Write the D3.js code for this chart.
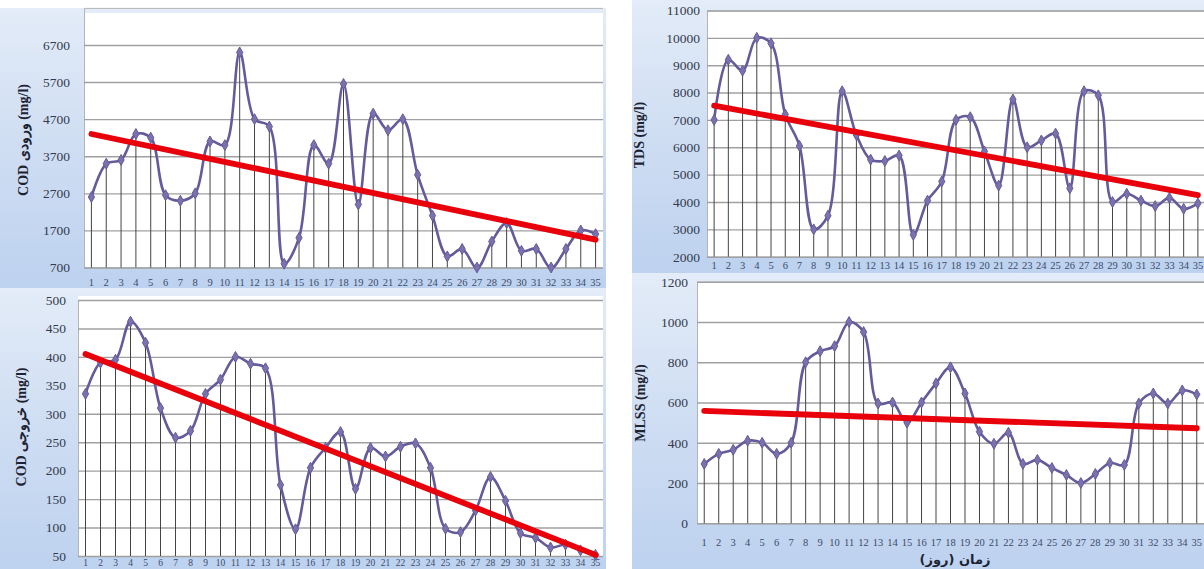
<!DOCTYPE html>
<html>
<head>
<meta charset="utf-8">
<script src="https://cdn.jsdelivr.net/npm/d3@7"></script>
<style>
  body { margin: 0; background: #ffffff; }
  svg { display: block; }
</style>
</head>
<body>
<svg id="chart" width="1204" height="569"></svg>
<script>
// Sampling days (x categories, shared by all four panels)
const days = [1, 2, 3, 4, 5, 6, 7, 8, 9, 10, 11, 12, 13, 14, 15, 16, 17, 18, 19, 20,
              21, 22, 23, 24, 25, 26, 27, 28, 29, 30, 31, 32, 33, 34, 35];

// Influent COD (mg/l)
const codInlet = [2600, 3500, 3600, 4300, 4200, 2650, 2500, 2700, 4100, 4000,
                  6500, 4700, 4500, 800, 1500, 4000, 3500, 5650, 2400, 4850,
                  4400, 4700, 3200, 2100, 1000, 1200, 680, 1400, 1900, 1150,
                  1200, 680, 1200, 1700, 1600];
// Effluent COD (mg/l)
const codOutlet = [335, 390, 395, 462, 425, 310, 258, 270, 335, 360,
                   400, 388, 380, 175, 97, 205, 240, 268, 168, 240,
                   225, 242, 248, 205, 98, 92, 130, 189, 147, 90,
                   82, 65, 70, 60, 52];
// TDS (mg/l)
const tds = [7000, 9200, 8800, 10000, 9800, 7200, 6050, 3000, 3500, 8050,
             6450, 5550, 5500, 5700, 2800, 4050, 4750, 7000, 7100, 5850,
             4600, 7750, 6000, 6250, 6500, 4500, 8050, 7900, 4000, 4300,
             4050, 3850, 4150, 3750, 3950];
// MLSS (mg/l)
const mlss = [295, 345, 365, 410, 400, 345, 400, 800, 855, 880,
              1000, 950, 595, 600, 500, 600, 695, 775, 645, 455,
              395, 450, 295, 315, 275, 240, 200, 245, 300, 290,
              595, 645, 595, 660, 640];

// Linear trend values at the first and last day
const codInletTrend = [4300, 1450];
const codOutletTrend = [405, 52];
const tdsTrend = [7520, 4250];
const mlssTrend = [558, 472];

// Y tick labels
const codInletTicks = [700, 1700, 2700, 3700, 4700, 5700, 6700];
const codOutletTicks = [50, 100, 150, 200, 250, 300, 350, 400, 450, 500];
const tdsTicks = [2000, 3000, 4000, 5000, 6000, 7000, 8000, 9000, 10000, 11000];
const mlssTicks = [0, 200, 400, 600, 800, 1000, 1200];

const svg = d3.select("#chart");

// Chart-area background gradient
const defs = svg.append("defs");
const grad = defs.append("linearGradient")
  .attr("id", "chartBg").attr("x1", 0).attr("y1", 0).attr("x2", 0).attr("y2", 1);
grad.append("stop").attr("offset", "0%").attr("stop-color", "#e3ecf8");
grad.append("stop").attr("offset", "55%").attr("stop-color", "#cddcf2");
grad.append("stop").attr("offset", "100%").attr("stop-color", "#bdd2ef");

const panels = [
  {
    id: "codIn", values: codInlet, trend: codInletTrend, ticks: codInletTicks,
    title: "COD ورودی (mg/l)",
    bg: { x: 0, y: 8, w: 606, h: 280 },
    x0: 84, x1: 603, top: 13, yDomain: [700, 7700], yRange: [267.5, 7.9],
    labelRight: 70, tickLabelY: 282, tickFont: 10.5, titleX: 25, titleY: 140
  },
  {
    id: "codOut", values: codOutlet, trend: codOutletTrend, ticks: codOutletTicks,
    title: "COD خروجی (mg/l)",
    bg: { x: 0, y: 288, w: 606, h: 281 },
    x0: 78, x1: 603, top: 296, yDomain: [50, 500], yRange: [556, 300],
    labelRight: 66, tickLabelY: 562.5, tickFont: 9.5, titleX: 23, titleY: 427
  },
  {
    id: "tds", values: tds, trend: tdsTrend, ticks: tdsTicks,
    title: "TDS (mg/l)",
    bg: { x: 632, y: 0, w: 572, h: 273 },
    x0: 707, x1: 1205, top: 10.5, yDomain: [2000, 11000], yRange: [256.7, 10.5],
    labelRight: 700, tickLabelY: 265, tickFont: 10.5, titleX: 641, titleY: 135
  },
  {
    id: "mlss", values: mlss, trend: mlssTrend, ticks: mlssTicks,
    title: "MLSS (mg/l)",
    bg: { x: 632, y: 273, w: 572, h: 296 },
    x0: 697, x1: 1204, top: 281.7, yDomain: [0, 1200], yRange: [523.3, 281.7],
    labelRight: 688, tickLabelY: 542, tickFont: 10.5, titleX: 642, titleY: 403
  }
];

const seriesColor = "#655b9a";
const markerColor = "#7a72ad";
const trendColor = "#e8000a";

panels.forEach(p => {
  const g = svg.append("g").attr("class", "panel-" + p.id);

  g.append("rect")
    .attr("x", p.bg.x).attr("y", p.bg.y)
    .attr("width", p.bg.w).attr("height", p.bg.h)
    .attr("fill", "url(#chartBg)");

  const x = d3.scaleBand().domain(days).range([p.x0, p.x1]).padding(0);
  const cx = d => x(d) + x.bandwidth() / 2;
  const y = d3.scaleLinear().domain(p.yDomain).range(p.yRange);
  const bottom = p.yRange[0];

  // White plot area
  g.append("rect")
    .attr("x", p.x0).attr("y", p.top)
    .attr("width", p.x1 - p.x0).attr("height", bottom - p.top)
    .attr("fill", "#ffffff");

  // Clip for the plotted series
  defs.append("clipPath").attr("id", "clip-" + p.id)
    .append("rect")
    .attr("x", p.x0).attr("y", p.top)
    .attr("width", p.x1 - p.x0).attr("height", bottom - p.top + 1);

  // Y axis with horizontal gridlines
  const yAxis = d3.axisLeft(y)
    .tickValues(p.ticks)
    .tickSize(-(p.x1 - p.x0))
    .tickPadding(p.x0 - p.labelRight)
    .tickFormat(d3.format("d"));
  const ya = g.append("g").attr("transform", `translate(${p.x0},0)`).call(yAxis);
  ya.select(".domain").attr("stroke", "#b4b4b4").attr("stroke-width", 1);
  ya.selectAll(".tick line").attr("stroke", "#a0a0a0").attr("stroke-width", 1.4);
  ya.selectAll(".tick text")
    .attr("fill", "#333b4e")
    .style("font-family", "'Liberation Serif', 'DejaVu Serif', serif")
    .style("font-size", "13.5px");

  // X axis labels
  const xAxis = d3.axisBottom(x).tickSize(0).tickPadding(p.tickLabelY - bottom - p.tickFont * 0.36);
  const xa = g.append("g").attr("transform", `translate(0,${bottom})`).call(xAxis);
  xa.select(".domain").remove();
  xa.selectAll(".tick text")
    .attr("fill", "#3c4a6a")
    .style("font-family", "'Liberation Serif', 'DejaVu Serif', serif")
    .style("font-size", p.tickFont + "px");

  const plotG = g.append("g").attr("clip-path", `url(#clip-${p.id})`);

  // Drop lines from each point to the category axis
  plotG.selectAll("line.drop")
    .data(days)
    .join("line")
    .attr("class", "drop")
    .attr("x1", d => cx(d)).attr("x2", d => cx(d))
    .attr("y1", (d, i) => y(p.values[i])).attr("y2", bottom)
    .attr("stroke", "#444444").attr("stroke-width", 1);

  // Smoothed series line
  const line = d3.line()
    .x((d, i) => cx(days[i]))
    .y(d => y(d))
    .curve(d3.curveCatmullRom.alpha(0.5));
  plotG.append("path")
    .datum(p.values)
    .attr("d", line)
    .attr("fill", "none")
    .attr("stroke", seriesColor)
    .attr("stroke-width", 2.6)
    .attr("stroke-linejoin", "round");

  // Diamond markers
  g.selectAll("path.marker")
    .data(p.values)
    .join("path")
    .attr("class", "marker")
    .attr("transform", (d, i) => `translate(${cx(days[i])},${Math.min(y(d), bottom)})`)
    .attr("d", d3.symbol(d3.symbolDiamond, 34))
    .attr("fill", markerColor)
    .attr("stroke", seriesColor)
    .attr("stroke-width", 1);

  // Linear trend line
  g.append("line")
    .attr("x1", cx(days[0])).attr("y1", y(p.trend[0]))
    .attr("x2", cx(days[days.length - 1])).attr("y2", y(p.trend[1]))
    .attr("stroke", trendColor)
    .attr("stroke-width", 5.8)
    .attr("stroke-linecap", "round");

  // Rotated axis title
  g.append("text")
    .attr("transform", `translate(${p.titleX},${p.titleY}) rotate(-90)`)
    .attr("text-anchor", "middle")
    .attr("dominant-baseline", "middle")
    .attr("direction", "ltr")
    .attr("fill", "#1c2333")
    .style("font-family", "'Liberation Serif', 'DejaVu Serif', serif")
    .style("font-weight", "bold")
    .style("font-size", "14px")
    .text(p.title);
});

// Day-axis caption under the MLSS panel
svg.append("text")
  .attr("x", 955).attr("y", 564)
  .attr("text-anchor", "middle")
  .attr("fill", "#1c2333")
  .style("font-family", "'DejaVu Sans', sans-serif")
  .style("font-weight", "bold")
  .style("font-size", "13px")
  .text("زمان (روز)");
</script>
</body>
</html>
